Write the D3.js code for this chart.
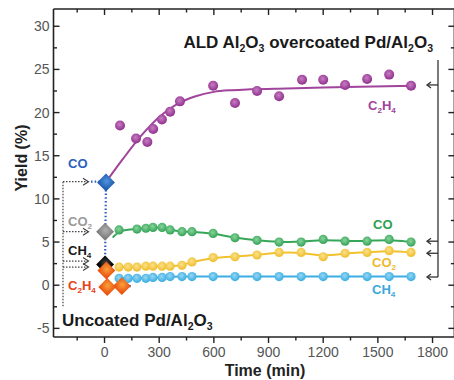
<!DOCTYPE html>
<html>
<head>
<meta charset="utf-8">
<script src="https://cdn.jsdelivr.net/npm/d3@7"></script>
<style>
  body { margin: 0; background: #fff; }
  svg { display: block; font-family: "Liberation Sans", Arial, sans-serif; }
</style>
</head>
<body>
<div id="chart"></div>
<script>
// ALD overcoated catalyst: product yields vs time
const tC2H4 = [85, 173, 235, 267, 315, 360, 414, 596, 716, 837, 958, 1084, 1200, 1320, 1441, 1562, 1682];
const yC2H4 = [18.5, 17.0, 16.6, 18.1, 19.2, 20.1, 21.3, 23.1, 21.1, 22.5, 21.9, 23.8, 23.8, 23.2, 23.9, 24.4, 23.1];

// fitted trend for C2H4
const tFit = [20, 100, 200, 300, 400, 500, 600, 700, 800, 1000, 1200, 1400, 1700];
const yFit = [12.3, 14.6, 17.3, 19.5, 21.0, 21.9, 22.4, 22.6, 22.7, 22.8, 22.9, 23.0, 23.1];

const tCO = [80, 178, 227, 266, 316, 360, 425, 480, 596, 716, 837, 958, 1079, 1200, 1320, 1441, 1562, 1682];
const yCO = [6.4, 6.5, 6.6, 6.7, 6.7, 6.4, 6.2, 6.2, 6.0, 5.5, 5.2, 5.0, 5.0, 5.3, 5.1, 5.1, 5.3, 5.0];

const tSmall = [80, 130, 178, 227, 266, 316, 360, 425, 480, 596, 716, 837, 958, 1079, 1200, 1320, 1441, 1562, 1682];
const yCO2 = [2.1, 2.1, 2.1, 2.2, 2.2, 2.2, 2.2, 2.3, 2.7, 3.2, 3.3, 3.5, 3.8, 3.8, 3.3, 3.7, 3.8, 4.0, 3.8];
const yCH4 = [0.8, 0.8, 0.8, 0.8, 0.9, 0.9, 1.0, 1.0, 1.0, 1.0, 1.0, 1.0, 1.0, 1.0, 1.0, 1.0, 1.0, 1.0, 1.0];

// uncoated catalyst (diamonds): [time, yield]
const uncoatedCO = [8, 11.9];
const uncoatedCO2 = [3, 6.2];
const uncoatedCH4 = [3, 2.4];
const uncoatedC2H4 = [[10, 1.7], [95, -0.1], [15, -0.2]];

// arrow levels
const leftArrows = [12, 6.2, 2.8, 2.1];
const rightArrows = [23.2, 5.1, 3.7, 0.95];

const yTicks = [-5, 0, 5, 10, 15, 20, 25, 30];
const xTicks = [0, 300, 600, 900, 1200, 1500, 1800];

const W = 454, H = 380;
const svg = d3.select("#chart").append("svg").attr("width", W).attr("height", H);

const x = d3.scaleLinear().domain([-280, 1920]).range([53.5, 454.4]);
const y = d3.scaleLinear().domain([-6, 32]).range([337, 9]);

// gradients for the glossy markers
const defs = svg.append("defs");
function grad(id, light, dark) {
  const g = defs.append("radialGradient").attr("id", id)
    .attr("cx", "45%").attr("cy", "40%").attr("r", "60%");
  g.append("stop").attr("offset", "0%").attr("stop-color", light);
  g.append("stop").attr("offset", "100%").attr("stop-color", dark);
}
grad("gP", "#c77cc2", "#8e2f8c");
grad("gG", "#86d49a", "#34a257");
grad("gY", "#fbe189", "#efbd2c");
grad("gB", "#97d6f3", "#36ace2");
grad("gDB", "#4f95e0", "#225fb0");
grad("gDG", "#b0b0b0", "#7f7f7f");
grad("gDO", "#f8a23a", "#ec5412");
grad("gDK", "#444", "#000");

// subscript text helper: "C_2H_4"
function rich(sel, str, size) {
  const parts = str.split(/(_\d)/).filter(p => p);
  let shift = 0;
  parts.forEach(p => {
    if (p[0] === "_") {
      sel.append("tspan").attr("font-size", size * 0.62).attr("dy", size * 0.25).text(p[1]);
      shift = size * 0.25;
    } else {
      sel.append("tspan").attr("dy", -shift).text(p);
      shift = 0;
    }
  });
  return sel;
}

// axes frame
const frame = svg.append("g").attr("stroke", "#222").attr("stroke-width", 1.6).attr("fill", "none");
frame.append("line").attr("x1", x(-280)).attr("x2", x(-280)).attr("y1", y(32)).attr("y2", y(-6));
frame.append("line").attr("x1", x(-280)).attr("x2", x(1920)).attr("y1", y(-6)).attr("y2", y(-6));
frame.append("line").attr("x1", x(-280)).attr("x2", x(1920)).attr("y1", y(32)).attr("y2", y(32));
frame.append("line").attr("x1", x(1920)).attr("x2", x(1920)).attr("y1", y(32)).attr("y2", y(-6));

const tk = svg.append("g").attr("stroke", "#222").attr("stroke-width", 1.4);
d3.range(-5, 32, 2.5).forEach(v => {
  const len = v % 5 === 0 ? 6 : 3.5;
  tk.append("line").attr("x1", x(-280)).attr("x2", x(-280) + len).attr("y1", y(v)).attr("y2", y(v));
  tk.append("line").attr("x1", x(1920)).attr("x2", x(1920) - len).attr("y1", y(v)).attr("y2", y(v));
});
d3.range(-150, 1920, 150).forEach(v => {
  const len = v % 300 === 0 ? 6 : 3.5;
  tk.append("line").attr("x1", x(v)).attr("x2", x(v)).attr("y1", y(-6)).attr("y2", y(-6) + len);
  tk.append("line").attr("x1", x(v)).attr("x2", x(v)).attr("y1", y(32)).attr("y2", y(32) + len);
});

svg.append("g").selectAll("text").data(yTicks).join("text")
  .attr("x", x(-280) - 4).attr("y", d => y(d)).attr("dy", "0.36em")
  .attr("text-anchor", "end").attr("font-size", 14).attr("fill", "#555")
  .text(d => d);
svg.append("g").selectAll("text").data(xTicks).join("text")
  .attr("x", d => x(d)).attr("y", 357)
  .attr("text-anchor", "middle").attr("font-size", 14).attr("fill", "#555")
  .text(d => d);

svg.append("text").attr("transform", "translate(27,158) rotate(-90)")
  .attr("text-anchor", "middle").attr("font-size", 16).attr("font-weight", "bold").attr("fill", "#222")
  .text("Yield (%)");
svg.append("text").attr("x", 265).attr("y", 376)
  .attr("text-anchor", "middle").attr("font-size", 16).attr("font-weight", "bold").attr("fill", "#222")
  .text("Time (min)");

// series
const toPts = (ts, ys) => ts.map((t, i) => [t, ys[i]]);
const line = d3.line().x(d => x(d[0])).y(d => y(d[1])).curve(d3.curveBasis);

const series = [
  { pts: toPts(tSmall, yCH4), start: [60, 0.8], color: "#3aaee2", fill: "url(#gB)" },
  { pts: toPts(tSmall, yCO2), start: [60, 2.1], color: "#f2c12e", fill: "url(#gY)" },
  { pts: toPts(tCO, yCO), start: [45, 5.5], color: "#36a659", fill: "url(#gG)" }
];
series.forEach(s => {
  svg.append("path").datum([s.start].concat(s.pts)).attr("d", line)
    .attr("fill", "none").attr("stroke", s.color).attr("stroke-width", 2);
  svg.append("g").selectAll("circle").data(s.pts).join("circle")
    .attr("cx", d => x(d[0])).attr("cy", d => y(d[1])).attr("r", 4.6).attr("fill", s.fill);
});

svg.append("path").datum(toPts(tFit, yFit)).attr("d", line.curve(d3.curveMonotoneX))
  .attr("fill", "none").attr("stroke", "#a0449c").attr("stroke-width", 2);
svg.append("g").selectAll("circle").data(toPts(tC2H4, yC2H4)).join("circle")
  .attr("cx", d => x(d[0])).attr("cy", d => y(d[1])).attr("r", 5).attr("fill", "url(#gP)");

// dotted connector through the uncoated points
svg.append("line").attr("x1", x(uncoatedCO[0])).attr("x2", x(uncoatedCO2[0]))
  .attr("y1", y(uncoatedCO[1])).attr("y2", y(2.6))
  .attr("stroke", "#2d5fc0").attr("stroke-width", 2.2).attr("stroke-dasharray", "1.5,2.2");
svg.append("line").attr("x1", x(95)).attr("x2", x(150)).attr("y1", y(-0.1)).attr("y2", y(-0.1))
  .attr("stroke", "#2d5fc0").attr("stroke-width", 2.2).attr("stroke-dasharray", "1.5,2.2");

// diamonds
const diamond = d3.symbol().type(d3.symbolSquare).size(160);
function dia(p, fill) {
  svg.append("path").attr("d", diamond)
    .attr("transform", `translate(${x(p[0])},${y(p[1])}) rotate(45)`)
    .attr("fill", fill);
}
dia(uncoatedCH4, "url(#gDK)");
uncoatedC2H4.forEach(p => dia(p, "url(#gDO)"));
dia(uncoatedCO2, "url(#gDG)");
dia(uncoatedCO, "url(#gDB)");

// left dotted bracket with arrows
const bx = 63;
const lg = svg.append("g").attr("stroke", "#444").attr("stroke-width", 1.2).attr("fill", "none");
lg.append("line").attr("x1", bx).attr("x2", bx).attr("y1", y(12)).attr("y2", y(-2.5))
  .attr("stroke-dasharray", "1.5,1.5");
leftArrows.forEach(v => {
  lg.append("line").attr("x1", bx).attr("x2", 88).attr("y1", y(v)).attr("y2", y(v))
    .attr("stroke-dasharray", "1.5,1.5");
  lg.append("path").attr("d", `M83,${y(v) - 3.5} L88.5,${y(v)} L83,${y(v) + 3.5}`);
});
svg.append("line").attr("x1", 91).attr("x2", x(uncoatedCO[0]) - 6).attr("y1", y(12)).attr("y2", y(12))
  .attr("stroke", "#2d5fc0").attr("stroke-width", 2.2).attr("stroke-dasharray", "1.5,2.2");

// right bracket with arrows
const rx = 438;
const rg = svg.append("g").attr("stroke", "#333").attr("stroke-width", 1.3).attr("fill", "none");
rg.append("line").attr("x1", rx).attr("x2", rx).attr("y1", 60).attr("y2", y(rightArrows[3]));
rightArrows.forEach(v => {
  rg.append("line").attr("x1", rx).attr("x2", 427).attr("y1", y(v)).attr("y2", y(v));
  rg.append("path").attr("d", `M431,${y(v) - 3} L427,${y(v)} L431,${y(v) + 3}`);
});

// labels
function label(str, px, py, size, color, anchor) {
  const t = svg.append("text").attr("x", px).attr("y", py).attr("font-size", size)
    .attr("font-weight", "bold").attr("fill", color).attr("text-anchor", anchor || "start");
  rich(t, str, size);
}
label("ALD Al_2O_3 overcoated Pd/Al_2O_3", 433, 48, 17, "#1a1a1a", "end");
label("Uncoated Pd/Al_2O_3", 62, 326, 17, "#1a1a1a");
label("CO", 68, 168, 13, "#2d5fc0");
label("CO_2", 68, 226, 13, "#9a9a9a");
label("CH_4", 68, 255, 13, "#1a1a1a");
label("C_2H_4", 68, 290, 13, "#e8421a");
label("C_2H_4", 368, 110, 13, "#a0449c");
label("CO", 373, 229, 13, "#2e9e50");
label("CO_2", 372, 267, 13, "#f0b830");
label("CH_4", 372, 294, 13, "#3aa8dc");
</script>
</body>
</html>
